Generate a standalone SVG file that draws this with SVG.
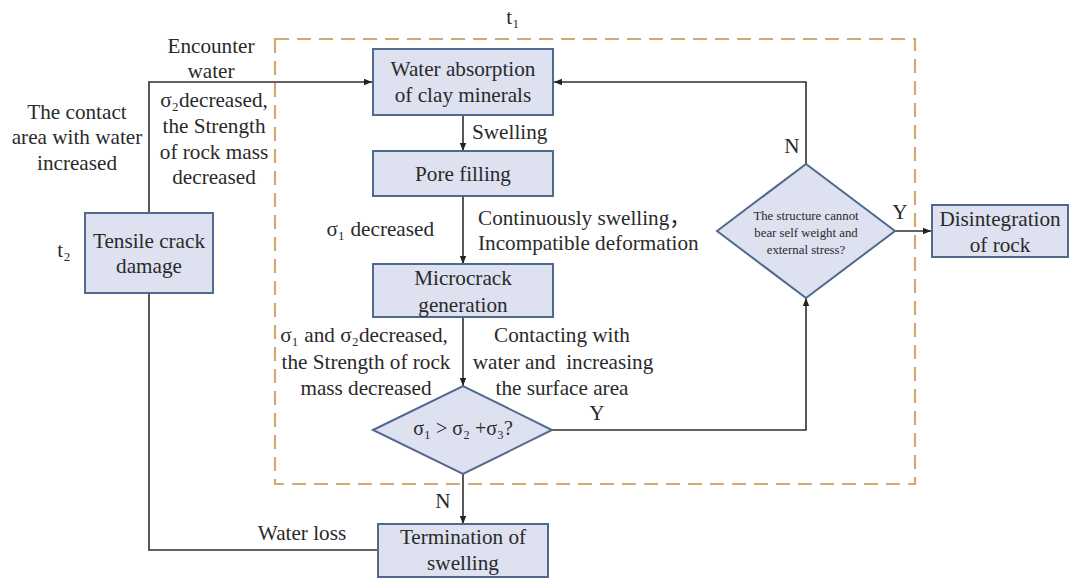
<svg xmlns="http://www.w3.org/2000/svg" width="1070" height="579" viewBox="0 0 1070 579">
<defs>
<marker id="arr" viewBox="0 0 10 10" refX="10" refY="5" markerWidth="8" markerHeight="8" markerUnits="userSpaceOnUse" orient="auto">
<path d="M0,1 L10,5 L0,9 Z" fill="#222"/>
</marker>
</defs>
<style>
text{font-family:'Liberation Serif','Times New Roman',Times,'DejaVu Serif','Noto Sans CJK SC',serif;fill:#2a2a2a;font-size:21.2px}
.m{text-anchor:middle}
.s{font-size:12.8px}
.box{fill:#DDE1F0;stroke:#52698E;stroke-width:2}
.c{fill:none;stroke:#2f2f2f;stroke-width:1.6}
</style>
<rect width="1070" height="579" fill="#fff"/>
<rect x="275" y="39" width="640" height="445" fill="none" stroke="#D9A672" stroke-width="2.2" stroke-dasharray="14 8"/>
<g id="connectors">
<polyline class="c" points="149,213 149,82 372,82" marker-end="url(#arr)"/>
<line class="c" x1="463" y1="115" x2="463" y2="151" marker-end="url(#arr)"/>
<line class="c" x1="463" y1="196" x2="463" y2="264" marker-end="url(#arr)"/>
<line class="c" x1="463" y1="317" x2="463" y2="386" marker-end="url(#arr)"/>
<polyline class="c" points="552,430 806,430 806,298" marker-end="url(#arr)"/>
<polyline class="c" points="806,164 806,82 554,82" marker-end="url(#arr)"/>
<line class="c" x1="895" y1="231" x2="931" y2="231" marker-end="url(#arr)"/>
<line class="c" x1="463" y1="474" x2="463" y2="524" marker-end="url(#arr)"/>
<polyline class="c" points="378,550 149,550 149,293"/>
</g>
<g id="labels">
<text class="m" x="513" y="24">t₁</text>
<text class="m" x="211" y="53">Encounter</text>
<text class="m" x="211" y="78">water</text>
<text class="m" x="214" y="107">σ₂decreased,</text>
<text class="m" x="214" y="133">the Strength</text>
<text class="m" x="214" y="159">of rock mass</text>
<text class="m" x="214" y="184">decreased</text>
<text class="m" x="77" y="119">The contact</text>
<text class="m" x="77" y="144">area with water</text>
<text class="m" x="77" y="170">increased</text>
<text class="m" x="64" y="257">t₂</text>
<text x="472" y="139">Swelling</text>
<text x="434" y="236" text-anchor="end">σ₁ decreased</text>
<text x="478" y="225">Continuously swelling，</text>
<text x="478" y="250">Incompatible deformation</text>
<text class="m" x="364" y="342">σ₁ and σ₂decreased,</text>
<text class="m" x="366" y="369">the Strength of rock</text>
<text class="m" x="366" y="395">mass decreased</text>
<text class="m" x="562" y="342">Contacting with</text>
<text class="m" x="563" y="369">water and&#160; increasing</text>
<text class="m" x="562" y="395">the surface area</text>
<text class="m" x="597" y="420">Y</text>
<text class="m" x="443" y="508">N</text>
<text class="m" x="302" y="540">Water loss</text>
<text class="m" x="792" y="153">N</text>
<text class="m" x="900" y="219">Y</text>
</g>
<g id="n-water">
<rect class="box" x="373" y="49" width="180" height="66"/>
<text class="m" x="463" y="76">Water absorption</text>
<text class="m" x="463" y="102">of clay minerals</text>
</g>
<g id="n-pore">
<rect class="box" x="373" y="151" width="180" height="45"/>
<text class="m" x="463" y="181">Pore filling</text>
</g>
<g id="n-micro">
<rect class="box" x="373" y="264" width="180" height="53"/>
<text class="m" x="463" y="285">Microcrack</text>
<text class="m" x="463" y="312">generation</text>
</g>
<g id="n-tensile">
<rect class="box" x="85" y="213" width="128" height="80"/>
<text class="m" x="149" y="248">Tensile crack</text>
<text class="m" x="149" y="273">damage</text>
</g>
<g id="n-cond1">
<polygon class="box" points="373,430 463,386 552,430 463,474"/>
<text class="m" x="463" y="435" style="font-size:20px">σ₁ &gt; σ₂ +σ₃?</text>
</g>
<g id="n-cond2">
<polygon class="box" points="717,231 806,164 895,231 806,298"/>
<text class="m s" x="806" y="220">The structure cannot</text>
<text class="m s" x="806" y="237">bear self weight and</text>
<text class="m s" x="806" y="254">external stress?</text>
</g>
<g id="n-term">
<rect class="box" x="378" y="524" width="170" height="53"/>
<text class="m" x="463" y="544">Termination of</text>
<text class="m" x="463" y="570">swelling</text>
</g>
<g id="n-disint">
<rect class="box" x="932" y="205" width="136" height="52"/>
<text class="m" x="1000" y="226">Disintegration</text>
<text class="m" x="1000" y="252">of rock</text>
</g>
</svg>
